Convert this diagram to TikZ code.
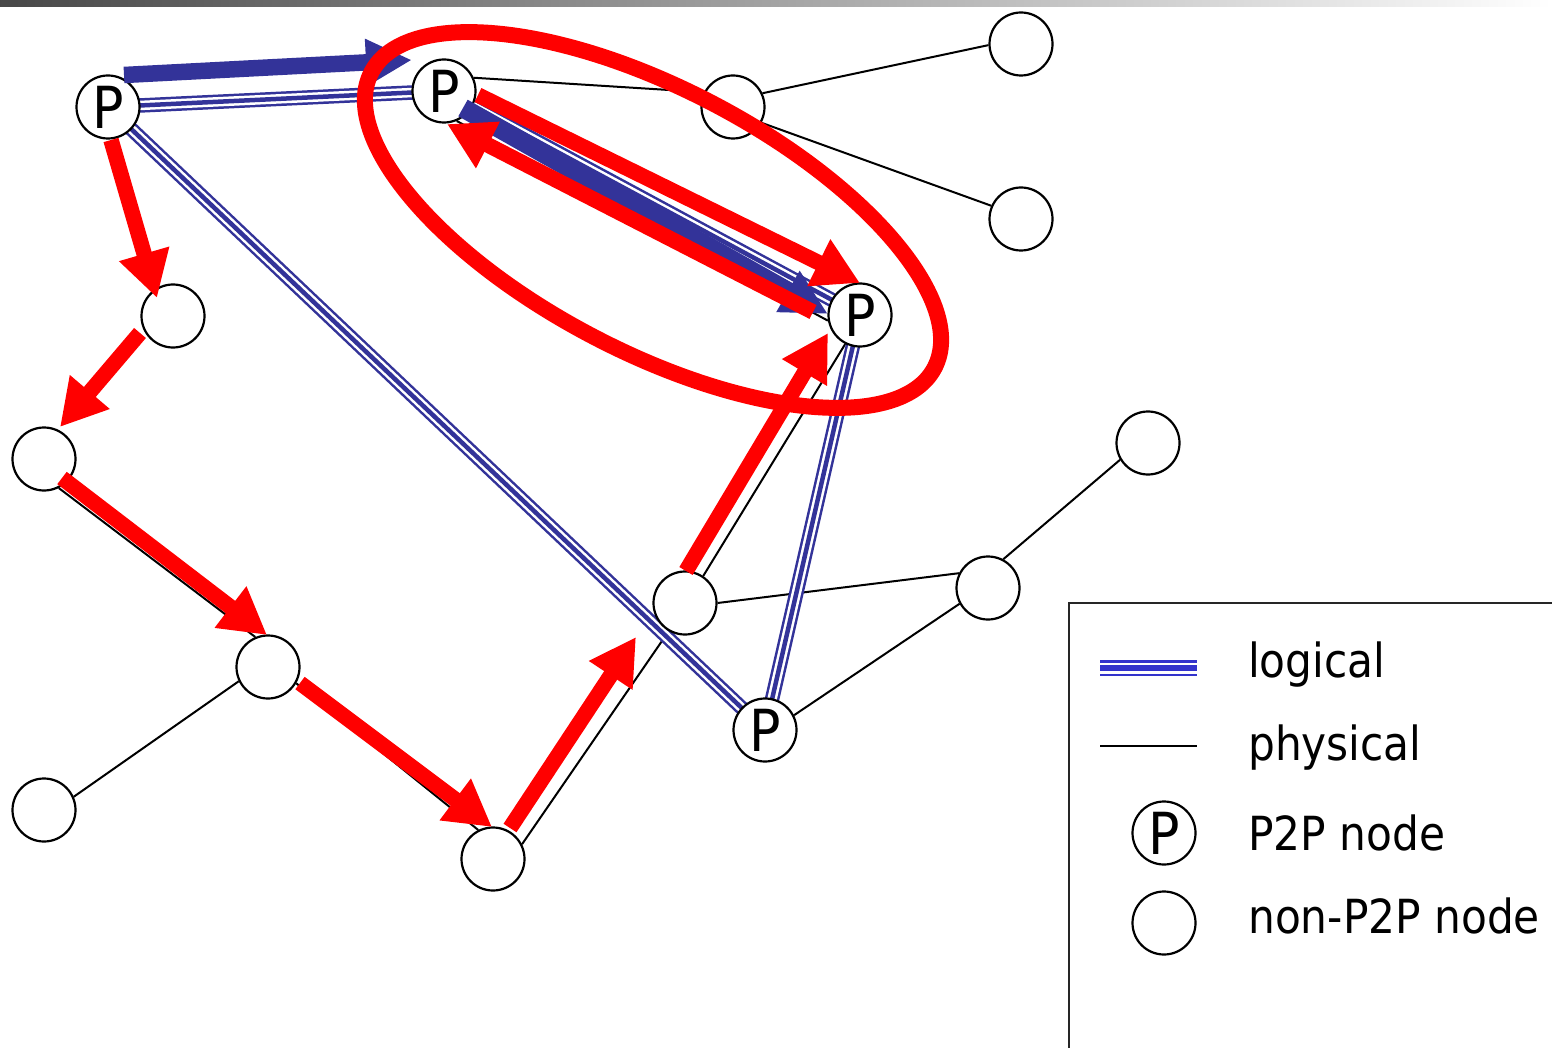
\documentclass[tikz,border=0pt]{standalone}
\usepackage{fontspec}
\setmainfont{DejaVu Sans}[FakeStretch=0.9]
\usetikzlibrary{arrows.meta,calc}
\definecolor{linkblue}{RGB}{51,51,153}
\definecolor{keyblue}{RGB}{51,51,204}
\definecolor{flowred}{RGB}{255,0,0}
\pgfdeclarelayer{background}
\pgfsetlayers{background,main}
\tikzset{
  host/.style={circle, draw=black, line width=2.2pt, fill=white,
    minimum size=63pt, inner sep=0pt},
  peer/.style={host, font=\fontsize{58}{60}\selectfont},
  physlink/.style={draw=black, line width=2pt},
  loglink/.style={draw=linkblue, line width=14.5pt,
    postaction={draw=white, line width=9.5pt},
    postaction={draw=linkblue, line width=4.5pt}},
  keylog/.style={draw=keyblue, line width=16pt,
    postaction={draw=white, line width=11pt},
    postaction={draw=keyblue, line width=5.5pt}},
  redflow/.style={draw=flowred, line width=15.5pt,
    -{Triangle[length=46pt,width=49pt]}},
  blueflow/.style={draw=linkblue, line width=16.5pt,
    -{Triangle[length=46pt,width=44pt]}},
  keytext/.style={anchor=base west, inner sep=0pt,
    font=\fontsize{47}{56}\selectfont}
}
\begin{document}
\begin{tikzpicture}[x=1pt,y=1pt]
\useasboundingbox (0,0) rectangle (1552,-1048);
% title bar shading
\shade[left color=black!72, right color=white] (0,0) rectangle (1552,-7);

% peers
\node[peer] (P1) at (108,-107) {P};
\node[peer] (P2) at (444,-91) {P};
\node[peer] (P3) at (860,-315) {P};
\node[peer] (P4) at (765,-730) {P};
% ordinary hosts
\node[host] (ntm)  at (733,-107) {};
\node[host] (ntr1) at (1021,-44) {};
\node[host] (ntr2) at (1021,-219) {};
\node[host] (nA) at (173,-316) {};
\node[host] (nB) at (44,-459) {};
\node[host] (nC) at (268,-667) {};
\node[host] (nD) at (44,-810) {};
\node[host] (nE) at (493,-859) {};
\node[host] (nF) at (685,-603) {};
\node[host] (nG) at (988,-588) {};
\node[host] (nH) at (1148,-443) {};

\begin{pgfonlayer}{background}
  % physical links
  \draw[physlink] (P2.24) -- (ntm.153);
  \draw[physlink] (ntm.25) -- (ntr1.182);
  \draw[physlink] (ntm.-29) -- (ntr2.156);
  \draw[physlink] (P2.-67) -- (P3.190);
  \draw[physlink] (nB.-63) -- (nC.113);
  \draw[physlink] (nC.206) -- (nD.24);
  \draw[physlink] (nC.-30) -- (nE.117);
  \draw[physlink] (nE.27) -- (nF.240);
  \draw[physlink] (nF.56) -- (P3.243);
  \draw[physlink] (nF.0) -- (nG.153);
  \draw[physlink] (nG.62) -- (nH.211);
  \draw[physlink] (nG.209) -- (P4.27);
  % logical overlay links
  \draw[loglink] (P1.center) -- (P2.center);
  \draw[loglink] (P1.center) -- (P4.center);
  \draw[loglink] (P2.center) -- (P3.center);
  \draw[loglink] (P3.center) -- (P4.center);
\end{pgfonlayer}

% overlay messages
\draw[blueflow] ($(P1)+(16,32)$) -- ($(P2)+(-32,31)$);
\draw[blueflow, line width=19pt] ($(P2)+(19,-17)$) -- ($(P3)+(-32,1)$);

% underlying physical route
\draw[redflow] ($(P1)+(3,-33)$) -- ($(nA)+(-16,18)$);
\draw[redflow] ($(nA)+(-33,-17)$) -- ($(nB)+(16,32)$);
\draw[redflow] ($(nB)+(18,-19)$) -- ($(nC)+(-1,32)$);
\draw[redflow] ($(nC)+(32,-16)$) -- ($(nE)+(-1,32)$);
\draw[redflow] ($(nE)+(17,31)$) -- ($(nF)+(-49,-34)$);
\draw[redflow] ($(nF)+(1,32)$) -- ($(P3)+(-32,-18)$);
\draw[redflow] ($(P2)+(34,-4)$) -- ($(P3)+(0,32)$);
\draw[redflow] ($(P3)+(-47,3)$) -- ($(P2)+(3,-33)$);

% highlighted peer pair
\draw[flowred, line width=16pt, shift={(653,-220)}, rotate=-27.7]
  (0,0) ellipse [x radius=318, y radius=131];

% legend
\draw[black!85, line width=2pt] (1069,-1060) -- (1069,-603) -- (1560,-603);
\coordinate (kl1) at (1100,-668);
\coordinate (kl2) at (1197,-668);
\coordinate (kp1) at (1100,-746);
\coordinate (kp2) at (1197,-746);
\draw[keylog] (kl1) -- (kl2);
\draw[physlink] (kp1) -- (kp2);
\node[peer] (kpeer) at (1164,-833) {P};
\node[host] (khost) at (1164,-923) {};
\node[keytext] (t1) at (1248,-677) {logical};
\node[keytext] (t2) at (1248,-760) {physical};
\node[keytext] (t3) at (1248,-850) {P2P node};
\node[keytext] (t4) at (1248,-933) {non-P2P node};
\end{tikzpicture}
\end{document}
